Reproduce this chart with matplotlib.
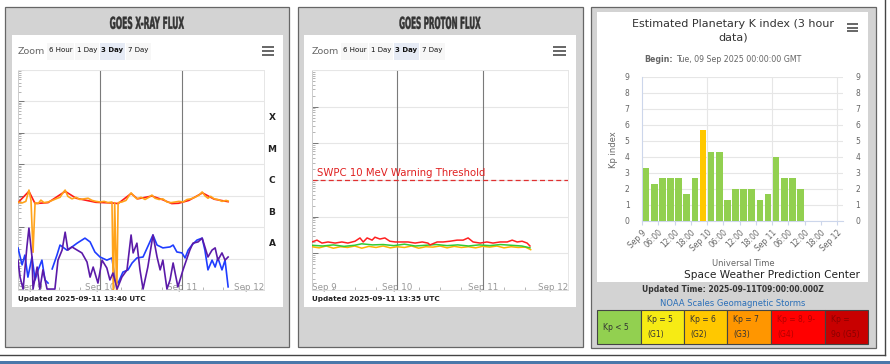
import numpy as np
import matplotlib.pyplot as plt
from matplotlib.patches import Rectangle, PathPatch
from matplotlib.ticker import LogLocator, NullFormatter
from matplotlib.textpath import TextPath
from matplotlib.font_manager import FontProperties
import matplotlib.transforms as mtransforms

plt.rcParams['font.family'] = ['DejaVu Sans']

# ---------------- DATA ----------------
# GOES X-ray flux, hours since 2025-09-09 00:00 UTC, log10(W/m^2)
xr_long_h = [0, 1.2, 2.3, 3.2, 3.8, 4.4, 5.0, 5.9, 6.7, 7.6, 8.8, 10.0, 11.1, 12.3, 13.2, 13.8,
             14.6, 15.8, 17.0, 18.1, 19.3, 20.5, 21.7, 22.8, 24.0, 25.2, 26.3, 27.5,
             27.9, 28.3, 28.9, 29.3,
             30.4, 31.6, 32.5, 33.1, 34.0, 34.8, 36.0, 37.2, 38.3, 39.2, 40.1, 41.3, 42.4,
             43.6, 44.8, 46.0, 47.1, 48.3, 49.5, 50.6, 51.8, 53.0, 53.9, 54.7, 55.6, 56.4,
             57.4, 58.5, 59.7, 60.9, 61.5]
xr_long_v = [-6.20, -6.23, -6.18, -5.82, -6.15, -7.80, -6.22, -6.25, -6.14, -6.22, -6.20, -6.15,
             -6.10, -6.05, -5.90, -5.82, -6.02, -6.10, -6.05, -6.12, -6.10, -6.08, -6.15, -6.18,
             -6.20, -6.18, -6.22, -6.20,
             -9.20, -6.22, -9.20, -6.22,
             -6.20, -6.15, -6.00, -5.91, -6.02, -6.10, -6.05, -6.12, -6.05, -5.98, -6.08, -6.12,
             -6.10, -6.20, -6.22, -6.20, -6.18, -6.20, -6.12, -6.10, -6.05, -5.98, -5.88, -6.00,
             -6.08, -6.02, -6.10, -6.12, -6.18, -6.15, -6.17]

xr_long2_h = [0, 3.2, 5.0, 8.8, 13.8, 17.0, 22.8, 27.5, 29.3, 33.1, 35.0, 39.2, 42.4, 45.0,
              47.0, 50.0, 54.0, 57.4, 61.5]
xr_long2_v = [-6.22, -5.86, -6.25, -6.22, -5.86, -6.08, -6.21, -6.23, -6.25, -5.93, -6.10,
              -6.01, -6.13, -6.25, -6.24, -6.15, -5.91, -6.11, -6.19]

xr_short_h = [0, 1.2, 2.0, 2.9, 4.1, 5.0, 5.9, 7.0, 7.9, 8.8, 9.5, 10.0, 11.4, 12.3, 14.3,
              15.8, 17.3, 19.6, 21.1, 22.5, 24.0, 26.0, 27.5, 28.4, 29.3, 30.7, 32.2, 33.4,
              34.8, 36.6, 38.6, 39.5, 40.7, 42.4, 44.5, 45.4, 46.5, 48.0, 48.9, 49.8, 50.9,
              52.4, 53.9, 54.7, 55.6, 56.8, 57.7, 58.5, 59.7, 60.6, 61.5]
xr_short_v = [-7.66, -8.20, -7.89, -8.59, -7.95, -8.68, -8.36, -8.05, -8.68, -8.78, np.nan,
              -8.33, -7.89, -7.57, -7.73, -7.63, -7.51, -7.35, -7.47, -7.79, -7.95, -8.05,
              -7.98, -8.68, -8.78, -8.43, -8.36, -8.14, -7.98, -7.95, -7.47, -7.25, -7.57,
              -7.66, -7.63, -7.57, -7.79, -7.82, -7.98, -7.73, -7.57, -7.41, -7.35, -7.73,
              -8.36, -8.05, -8.27, -7.98, -8.36, -8.05, -8.90]

xr_short2_h = [0, 0.6, 1.5, 2.6, 3.2, 4.1, 4.4, 5.6, 6.4, 7.3, 8.5, 10.8, 11.7, 12.9, 13.8,
               14.6, 15.8, 17.3, 18.7, 20.2, 21.1, 22.0, 23.4, 24.6, 26.0, 26.9, 27.8, 29.0,
               30.4, 31.9, 33.1, 33.7, 34.8, 35.7, 36.6, 38.0, 39.5, 40.7, 41.6, 42.4, 43.6,
               44.5, 45.4, 46.8, 48.3, 49.5, 50.3, 51.2, 52.7, 53.9, 54.7, 55.6, 56.8, 57.7,
               58.5, 59.7, 60.6, 61.5]
xr_short2_v = [-8.05, -8.59, -8.97, -7.63, -7.03, -7.95, -8.97, -8.27, -8.97, -8.36, -8.97,
               -8.97, -8.05, -7.73, -7.16, -7.73, -7.63, -7.73, -7.82, -8.11, -8.59, -8.27,
               -8.78, -8.05, -8.30, -8.68, -8.46, -8.97, -8.59, -8.36, -7.25, -7.82, -7.51,
               -8.36, -8.97, -8.27, -7.25, -7.95, -8.36, -8.05, -8.97, -8.68, -8.14, -8.90,
               -8.36, -7.98, -7.73, -7.51, -7.47, -7.35, -7.63, -7.95, -7.73, -7.66, -8.05,
               -7.82, -8.05, -7.95]

# GOES proton flux, log10(pfu)
pr_10_h = [0, 1.4, 2.8, 4.5, 6.5, 8.4, 10.1, 12.1, 13.5, 14.4, 15.5, 16.9, 17.7, 19.1, 20.5,
           21.9, 23.4, 25.3, 27.0, 29.0, 31.0, 32.6, 33.2, 35.2, 36.9, 38.8, 40.8, 42.5, 43.9,
           45.3, 47.3, 49.2, 50.9, 52.9, 54.9, 56.3, 57.7, 59.1, 60.5, 61.3]
pr_10_v = [-0.69, -0.64, -0.72, -0.69, -0.72, -0.69, -0.72, -0.67, -0.58, -0.69, -0.58, -0.64,
           -0.56, -0.61, -0.58, -0.67, -0.69, -0.69, -0.69, -0.72, -0.69, -0.72, -0.77, -0.69,
           -0.69, -0.67, -0.64, -0.64, -0.58, -0.69, -0.72, -0.69, -0.72, -0.69, -0.69, -0.64,
           -0.69, -0.67, -0.72, -0.80]
pr_50_h = [0, 3, 6, 9, 12, 14, 17, 20, 23, 26, 29, 32, 35, 38, 41, 44, 47, 50, 53, 56, 59, 61.3]
pr_50_v = [-0.78, -0.80, -0.77, -0.81, -0.78, -0.74, -0.77, -0.76, -0.79, -0.75, -0.80, -0.78,
           -0.76, -0.79, -0.77, -0.80, -0.77, -0.79, -0.76, -0.78, -0.80, -0.85]
pr_100_h = [0, 2, 4, 6, 8, 10, 12, 14, 16, 18, 20, 22, 24, 26, 28, 30, 32, 34, 36, 38, 40, 42,
            44, 46, 48, 50, 52, 54, 56, 58, 60, 61.5]
pr_100_v = [-0.82, -0.85, -0.80, -0.86, -0.82, -0.84, -0.80, -0.86, -0.81, -0.84, -0.80, -0.85,
            -0.82, -0.84, -0.80, -0.86, -0.82, -0.83, -0.80, -0.85, -0.81, -0.84, -0.82, -0.85,
            -0.81, -0.83, -0.80, -0.85, -0.82, -0.84, -0.83, -0.90]
pr_threshold = 10

# Planetary K index, 3-hour intervals starting 2025-09-09 00:00
kp_start_h = [0, 3, 6, 9, 12, 15, 18, 21, 24, 27, 30, 33, 36, 39, 42, 45, 48, 51, 54, 57]
kp_values = [3.33, 2.33, 2.67, 2.67, 2.67, 1.67, 2.67, 5.67, 4.33, 4.33, 1.33, 2.0, 2.0, 2.0,
             1.33, 1.67, 4.0, 2.67, 2.67, 2.0]
kp_tick_labels = ['Sep 9', '06:00', '12:00', '18:00', 'Sep 10', '06:00', '12:00', '18:00',
                  'Sep 11', '06:00', '12:00', '18:00', 'Sep 12']

scale_labels = ['Kp < 5', 'Kp = 5\n(G1)', 'Kp = 6\n(G2)', 'Kp = 7\n(G3)', 'Kp = 8, 9-\n(G4)',
                'Kp =\n9o (G5)']
scale_colors = ['#92d050', '#f6eb14', '#ffc800', '#ff9600', '#ff0000', '#c80000']
scale_text = ['#333333', '#333333', '#333333', '#333333', '#b30000', '#8a0000']

day_labels = ['Sep 9', 'Sep 10', 'Sep 11', 'Sep 12']
xray_classes = ['X', 'M', 'C', 'B', 'A']

# ---------------- FIGURE ----------------
W, H = 890, 364
fig = plt.figure(figsize=(W / 100, H / 100), dpi=100)
bg = fig.add_axes([0, 0, 1, 1])
bg.set_xlim(0, W)
bg.set_ylim(H, 0)
bg.axis('off')


def pbox(x0, y0, x1, y1):
    return [x0 / W, 1 - y1 / H, (x1 - x0) / W, (y1 - y0) / H]


def rect(x0, y0, x1, y1, **kw):
    bg.add_patch(Rectangle((x0, y0), x1 - x0, y1 - y0, **kw))


def burger(x0, x1, ys):
    for y in ys:
        bg.plot([x0, x1], [y, y], color='#666666', lw=1.4, solid_capstyle='butt')


def zoom_bar(off):
    bg.text(18 + off, 51, 'Zoom', fontsize=6.8, color='#666666', va='center')
    for (a, b, lab, sel) in [(47, 74, '6 Hour', False), (75, 99, '1 Day', False),
                             (100, 125, '3 Day', True), (126, 151, '7 Day', False)]:
        rect(a + off, 43, b + off, 60, fc='#e6ebf5' if sel else '#f7f7f7', ec='none')
        bg.text((a + b) / 2 + off, 50, lab, fontsize=5, color='#111111',
                ha='center', va='center', weight='bold' if sel else 'normal')


def narrow_title(cx, cy, s, width_px, cap_px=12):
    # condensed heading: bold glyph outlines squeezed horizontally
    fp = FontProperties(family='DejaVu Sans', weight='bold')
    tp = TextPath((0, 0), s, size=cap_px / 0.73, prop=fp)
    ext = tp.get_extents()
    sx = width_px / ext.width
    tr = (mtransforms.Affine2D()
          .translate(-ext.x0 - ext.width / 2, -ext.y0 - ext.height / 2)
          .scale(sx, -1)
          .translate(cx, cy))
    bg.add_patch(PathPatch(tr.transform_path(tp), fc='#333333', ec='#333333', lw=0.3))


# page lines
bg.plot([0, 885], [355, 355], color='#444444', lw=1)
bg.plot([885, 885], [0, 355], color='#444444', lw=1)
rect(0, 361, W, H, fc='#4a78aa', ec='none')

# panel 1 / panel 2 frames
for (x0, x1, wx0, wx1, title, cx, tw) in [(5, 289, 12, 283, 'GOES X-RAY FLUX', 147, 74),
                                          (298, 583, 304, 576, 'GOES PROTON FLUX', 440, 81)]:
    rect(x0, 7, x1, 347, fc='#d3d3d3', ec='#666666', lw=0.9)
    rect(wx0, 35, wx1, 307, fc='white', ec='none')
    narrow_title(cx, 22.8, title, tw)

zoom_bar(0)
zoom_bar(294)
burger(262, 274, [47, 51, 55])
burger(553, 566, [47, 51, 55])
bg.text(18, 299, 'Updated 2025-09-11 13:40 UTC', fontsize=5.2, weight='bold',
        color='#222222', va='center')
bg.text(312, 299, 'Updated 2025-09-11 13:35 UTC', fontsize=5.2, weight='bold',
        color='#222222', va='center')

# panel 3 frame
rect(591, 7, 876, 348, fc='#d3d3d3', ec='#666666', lw=0.9)
rect(597, 12, 868, 282, fc='white', ec='none')
bg.text(733, 24, 'Estimated Planetary K index (3 hour', fontsize=8, color='#333333',
        ha='center', va='center')
bg.text(733, 38, 'data)', fontsize=8, color='#333333', ha='center', va='center')
burger(847, 858, [24, 27.5, 31])
bg.text(673, 60, 'Begin:', fontsize=5.7, weight='bold', color='#666666', ha='right', va='center')
bg.text(676, 60, 'Tue, 09 Sep 2025 00:00:00 GMT', fontsize=5.7, color='#666666',
        ha='left', va='center')
bg.text(613, 150, 'Kp index', fontsize=6, color='#666666', rotation=90,
        ha='center', va='center')
bg.text(743, 264, 'Universal Time', fontsize=6, color='#666666', ha='center', va='center')
bg.text(860, 275, 'Space Weather Prediction Center', fontsize=7.6, color='#222222',
        ha='right', va='center')
bg.text(733, 289, 'Updated Time: 2025-09-11T09:00:00.000Z', fontsize=5.5, weight='bold',
        color='#333333', ha='center', va='center')
bg.text(733, 303, 'NOAA Scales Geomagnetic Storms', fontsize=6, color='#2a6fb8',
        ha='center', va='center')

cell_edges = [597, 641, 684, 727, 771, 825, 868]
for i, lab in enumerate(scale_labels):
    a, b = cell_edges[i], cell_edges[i + 1]
    rect(a, 310, b, 344, fc=scale_colors[i], ec='#444444', lw=0.8)
    if '\n' in lab:
        l1, l2 = lab.split('\n')
        bg.text(a + 6, 320, l1, fontsize=5.5, color=scale_text[i], va='center')
        bg.text(a + 6, 334, l2, fontsize=5.5, color=scale_text[i], va='center')
    else:
        bg.text(a + 6, 327, lab, fontsize=5.5, color=scale_text[i], va='center')


def style_flux_axis(ax, decades):
    ax.set_facecolor('none')
    ax.set_yscale('log')
    ax.set_xlim(0, 72)
    for d in decades:
        ax.axhline(10.0 ** d, color='#e6e6e6', lw=0.8, zorder=0)
    for d in (24, 48):
        ax.axvline(d, color='#7a7a7a', lw=0.8, zorder=1)
    ax.yaxis.set_major_locator(LogLocator(base=10, numticks=20))
    ax.yaxis.set_minor_locator(LogLocator(base=10, subs=np.arange(2, 10), numticks=20))
    ax.yaxis.set_major_formatter(NullFormatter())
    ax.yaxis.set_minor_formatter(NullFormatter())
    ax.tick_params(axis='y', which='major', direction='in', length=4, color='#777777', width=0.7)
    ax.tick_params(axis='y', which='minor', direction='in', length=2.5, color='#999999', width=0.5)
    ax.set_xticks([])
    ax.set_xticks([6, 12, 18, 30, 36, 42, 54, 60, 66], minor=True)
    ax.tick_params(axis='x', which='minor', direction='in', length=2, color='#aaaaaa')
    for s in ('top', 'right'):
        ax.spines[s].set_color('#e6e6e6')
    ax.spines['left'].set_color('#cccccc')
    ax.spines['bottom'].set_color('#dddddd')
    for sp in ax.spines.values():
        sp.set_linewidth(0.7)
    trans = mtransforms.blended_transform_factory(ax.transData, ax.transAxes)
    for k, lab in enumerate(day_labels):
        ha = 'left' if k == 0 else ('right' if k == 3 else 'center')
        ax.text(24 * k, 0.01, lab, transform=trans, fontsize=6.3, color='#999999',
                ha=ha, va='center', zorder=0.5)


# X-ray axes
ax1 = fig.add_axes(pbox(18, 70, 264, 290))
style_flux_axis(ax1, range(-9, -1))
ax1.set_ylim(1e-9, 1e-2)
ax1.plot(xr_long2_h, 10.0 ** np.array(xr_long2_v), color='#ff1a1a', lw=1.2, zorder=3)
ax1.plot(xr_long_h, 10.0 ** np.array(xr_long_v), color='#ffa31a', lw=1.2, zorder=4)
ax1.plot(xr_short_h, 10.0 ** np.array(xr_short_v), color='#1f3dff', lw=1.2, zorder=3)
ax1.plot(xr_short2_h, 10.0 ** np.array(xr_short2_v), color='#5b1aa8', lw=1.2, zorder=4)
for k, c in enumerate(xray_classes):
    bg.text(272, 118 + 31.4 * k, c, fontsize=6.5, weight='bold', color='#222222',
            ha='center', va='center')

# Proton axes
ax2 = fig.add_axes(pbox(312, 70, 568, 290))
style_flux_axis(ax2, range(-2, 5))
ax2.set_ylim(1e-2, 1e4)
ax2.axhline(pr_threshold, color='#e03030', lw=0.9, ls=(0, (4, 2.5)), zorder=2)
ax2.text(1.5, pr_threshold * 1.12, 'SWPC 10 MeV Warning Threshold', fontsize=7.3,
         color='#e02020', ha='left', va='bottom')
ax2.plot(pr_100_h, 10.0 ** np.array(pr_100_v), color='#ffb300', lw=1.1, zorder=3)
ax2.plot(pr_50_h, 10.0 ** np.array(pr_50_v), color='#33cc33', lw=1.1, zorder=4)
ax2.plot(pr_10_h, 10.0 ** np.array(pr_10_v), color='#ff2020', lw=1.1, zorder=5)

# Kp axes
ax3 = fig.add_axes(pbox(642, 77, 843, 221))
ax3.set_facecolor('none')
kp_cols = []
for v in kp_values:
    r = int(round(v))
    kp_cols.append(scale_colors[0] if r < 5 else scale_colors[min(r - 4, 5)])
ax3.bar(np.array(kp_start_h) + 1.5, kp_values, width=2.45, color=kp_cols, zorder=3)
ax3.set_xlim(0, 74.2)
ax3.set_ylim(0, 9)
ax3.set_yticks(range(10))
ax3.grid(axis='y', color='#e6e6e6', lw=0.8, zorder=0)
for d in (24, 48, 72):
    ax3.axvline(d, color='#e6e6e6', lw=0.8, zorder=0)
ax3.set_xticks(range(0, 73, 6))
ax3.set_xticklabels(kp_tick_labels, rotation=45, ha='right', rotation_mode='anchor')
ax3.tick_params(axis='y', length=0, labelsize=5.5, labelcolor='#666666',
                labelleft=True, labelright=True, pad=9)
ax3.tick_params(axis='x', length=3, color='#ccd6eb', labelsize=5.5, labelcolor='#666666', pad=2)
ax3.spines['top'].set_visible(False)
ax3.spines['right'].set_visible(False)
ax3.spines['left'].set_color('#ccd6eb')
ax3.spines['bottom'].set_color('#ccd6eb')

fig.savefig('out.png', dpi=100)
